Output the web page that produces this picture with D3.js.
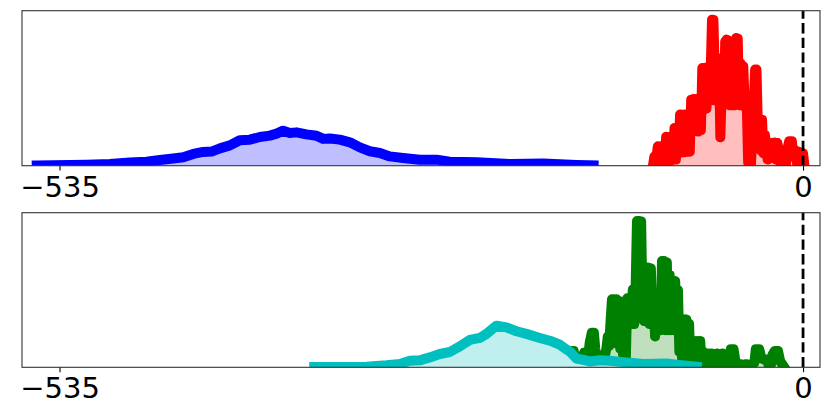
<!DOCTYPE html>
<html><head><meta charset="utf-8">
<script src="https://cdn.jsdelivr.net/npm/d3@7"></script>
<style>body{margin:0;background:#fff}svg{display:block}</style>
</head><body>
<svg id="chart" width="831" height="415"></svg>
<script>
// ---- data (x in score units, y in density % of panel height) ----
const xTicks = [-535, 0];
const tickLabels = ["\u2212535", "0"];

const bluePts = [[-551.4,0.2],[-515.5,0.6],[-498.8,1.1],[-484.4,2.0],[-472.4,2.6],[-462.8,3.7],[-453.2,4.7],[-446.0,5.4],[-438.8,7.6],[-431.7,8.9],[-425.6,9.1],[-419.6,11.2],[-412.4,13.1],[-405.3,16.4],[-398.1,16.8],[-390.9,18.5],[-383.7,19.4],[-378.8,20.7],[-374.1,22.6],[-369.3,21.1],[-364.5,21.5],[-357.3,20.2],[-350.1,19.3],[-345.3,17.3],[-340.5,17.6],[-333.3,16.8],[-326.1,15.1],[-318.9,11.8],[-311.7,9.3],[-304.5,8.2],[-297.3,6.0],[-287.8,5.0],[-275.8,3.9],[-263.7,3.9],[-254.2,2.6],[-235.0,2.2],[-211.0,1.1],[-187.1,1.5],[-163.0,0.5],[-150.7,0.2]];

const redPts = [[-108,0],[-107,6],[-106.2,1],[-105.4,6],[-104.5,12.5],[-103.5,2],[-102.5,12.5],[-101.5,3],[-100.5,12],[-99.5,2],[-98.5,18.7],[-97.5,4],[-96.5,18.5],[-95.5,3],[-94.5,18.7],[-93.5,5],[-92.5,24.3],[-91.5,4],[-90.5,24],[-89.5,8],
[-88.5,33],[-87.5,9],[-86.5,32.9],[-85.5,8.6],[-84.5,33],[-83.5,9],[-82.5,33],[-81.5,9],
[-80.5,42.6],[-79.5,22],[-78.5,43],[-77.5,23],[-76.5,43],[-75.5,22],[-74.5,43.2],[-73.5,23],
[-72.5,63],[-71.5,36],[-70.5,63.2],[-69.5,37],[-68.5,63],
[-67,42],[-65.5,94.2],[-64.5,94],[-63,42],
[-62,69.5],[-60.5,69],[-59.5,18.3],[-58,66],
[-57,39],[-56,80],[-55,81.3],[-54,81],[-53,39],[-52,60],[-51,39],[-50,61],[-49,39],[-48,82.4],[-47,82],[-46,39],[-45,66],[-44,39],[-43,64],[-42,38],
[-40.5,40],[-39.5,2],[-38.5,38],[-37.5,1],[-36,30],[-34.5,62],[-33.5,62],[-32.5,25],[-31.5,30],[-30.5,10],[-29.5,29.7],[-28.5,8],[-27.5,20],
[-26.5,14],[-25.5,4],[-24.5,14.6],[-23.5,6],[-22.5,14.6],[-21.5,5],[-20.5,15],[-19.5,4],[-18.5,14.6],[-17,8],[-16,0],[-14,0],[-12.5,0],[-11,12],[-10,15.7],[-8,15.7],[-7,6],[-5.5,10],[-4.5,2],[-3,9],[-1.5,4],[0,8],[1,0]];

const cyanPts = [[-351.7,0.2],[-314.1,0.4],[-299.7,1.3],[-290.1,2.2],[-283.0,4.3],[-275.8,4.5],[-268.6,6.4],[-261.4,8.6],[-254.2,9.9],[-247.0,13.5],[-239.8,17.7],[-232.6,19.0],[-227.8,21.6],[-220.6,26.9],[-213.4,25.8],[-206.2,23.3],[-199.0,21.6],[-189.4,19.0],[-182.2,17.2],[-175.0,14.6],[-170.2,11.5],[-167.8,10.2],[-163.0,5.6],[-158.5,4.9],[-153.5,3.8],[-146.3,4.5],[-139.1,4.3],[-127.1,3.2],[-122.5,2.8],[-115.1,2.2],[-98.3,2.4],[-91.1,1.7],[-76.5,0.4]];

const greenPts = [[-167.5,0],[-167,6],[-166.2,10.5],[-165,10.5],[-164,4],[-163,7],[-162,2],[-161,0],[-159.5,0],
[-158.5,6],[-157.5,9.6],[-156.5,9.6],[-155.5,3],[-154.5,8],[-153.5,16],[-152,22.4],[-150.5,22.4],[-149.5,12],[-148.5,4],[-147.5,8],[-146.5,1],[-145,0],[-143.5,2],
[-142.5,8],[-141.5,12],[-140.5,20],[-139.5,14],[-138.5,30],[-137.5,44],[-136.5,44],[-135.5,20],[-134.5,44],[-133.5,15],[-132.5,43],[-131.5,12],[-130.5,40],[-129.5,8],[-128.5,20],[-127.5,6],[-126.5,44.6],[-125.5,28],[-124.5,44.6],[-123.5,28],[-122.5,50.3],[-121.5,28],[-120.5,50],[-119.5,94.6],[-118,94.6],[-116.5,94.4],[-115.5,40],[-114.5,30],[-113.5,64.5],[-112.5,30],[-111.5,64.5],[-110.5,28],[-109.5,64],[-108.5,30],[-107.5,45],[-106.5,20],[-105.5,44.6],[-104.5,24],[-103.5,44],[-102.5,24],[-101.5,68.7],[-100,68.7],[-99,24],[-98,68],[-97,24],[-96,60],[-95,24],[-94,55.8],[-93,24],[-92,55.8],[-91,24],[-90,50],[-89,10],[-88,31],[-87,5],[-86,31],[-85,3],[-84,31],[-83,2],[-82,28],[-81,1],[-80,6],[-79,2],[-78,17],[-77,4],[-76,17],[-75,3],[-74,17],[-73,2],[-72,10],[-71,1],[-70,9],[-69,2],[-68,9],[-67,3],[-66,9],[-65,2],[-64,8],[-63,3],[-62,9],[-61,1],[-60,7],[-59,3],[-58,9],[-57,2],[-56,6],[-55,2],[-54,1],[-53,4],[-52,11.6],[-50,11.6],[-48.5,3],[-47,2],[-45,2],[-43,1.6],[-41,2],[-39,1.6],[-37,2],[-35,3],[-34,11.6],[-31.5,11.6],[-30,6],[-28,5],[-26,5],[-25,2],[-23,2],[-22,8],[-20.5,10.5],[-18,10.5],[-16.5,4],[-13.5,0]];

const panels = [
  {series: [{pts: bluePts, color: "#0000ff", fill: "#bfbfff"}, {pts: redPts, color: "#ff0000", fill: "#ffbfbf"}]},
  {series: [{pts: greenPts, color: "#008000", fill: "#bfdfbf"}, {pts: cyanPts, color: "#00bfbf", fill: "#bfefef"}]}
];

// ---- layout ----
const svg = d3.select("#chart");
const left = 22, right = 820;
const panelBoxes = [{top: 10.7, bottom: 165.7}, {top: 212.7, bottom: 367.3}];
const x = d3.scaleLinear().domain([-562, 12.2]).range([left, right]);

panels.forEach((p, i) => {
  const box = panelBoxes[i];
  const y = d3.scaleLinear().domain([0, 100]).range([box.bottom, box.top]);
  const g = svg.append("g");
  const clipId = "clip" + i;
  svg.append("clipPath").attr("id", clipId).append("rect")
    .attr("x", left).attr("y", box.top).attr("width", right - left).attr("height", box.bottom - box.top);
  const plot = g.append("g").attr("clip-path", `url(#${clipId})`);
  const line = d3.line().x(d => x(d[0])).y(d => y(d[1]));
  const area = d3.area().x(d => x(d[0])).y0(y(0)).y1(d => y(d[1]));
  p.series.forEach(s => {
    plot.append("path").datum(s.pts).attr("d", area).attr("fill", s.fill).attr("stroke", "none");
    plot.append("path").datum(s.pts).attr("d", line).attr("fill", "none")
      .attr("stroke", s.color).attr("stroke-width", 10)
      .attr("stroke-linejoin", "round").attr("stroke-linecap", "square");
  });
  // dashed reference line at 0
  plot.append("line").attr("x1", x(0)).attr("x2", x(0)).attr("y1", y(0)).attr("y2", y(100))
    .attr("stroke", "#000").attr("stroke-width", 2.8).attr("stroke-dasharray", "10.3 4.4");
  // axis
  const ax = g.append("g").attr("transform", `translate(0,${box.bottom})`)
    .call(d3.axisBottom(x).tickValues(xTicks).tickSize(4.9).tickFormat((d, k) => tickLabels[k]));
  ax.select(".domain").remove();
  ax.selectAll(".tick line").attr("stroke", "#000").attr("stroke-width", 1.1);
  ax.selectAll(".tick text").attr("y", 31).attr("dy", null)
    .attr("fill", "#000").style("font-family", "DejaVu Sans").style("font-size", "29px");
  // frame
  g.append("rect").attr("x", left).attr("y", box.top).attr("width", right - left).attr("height", box.bottom - box.top)
    .attr("fill", "none").attr("stroke", "#333").attr("stroke-width", 1.1);
});
</script>
</body></html>
